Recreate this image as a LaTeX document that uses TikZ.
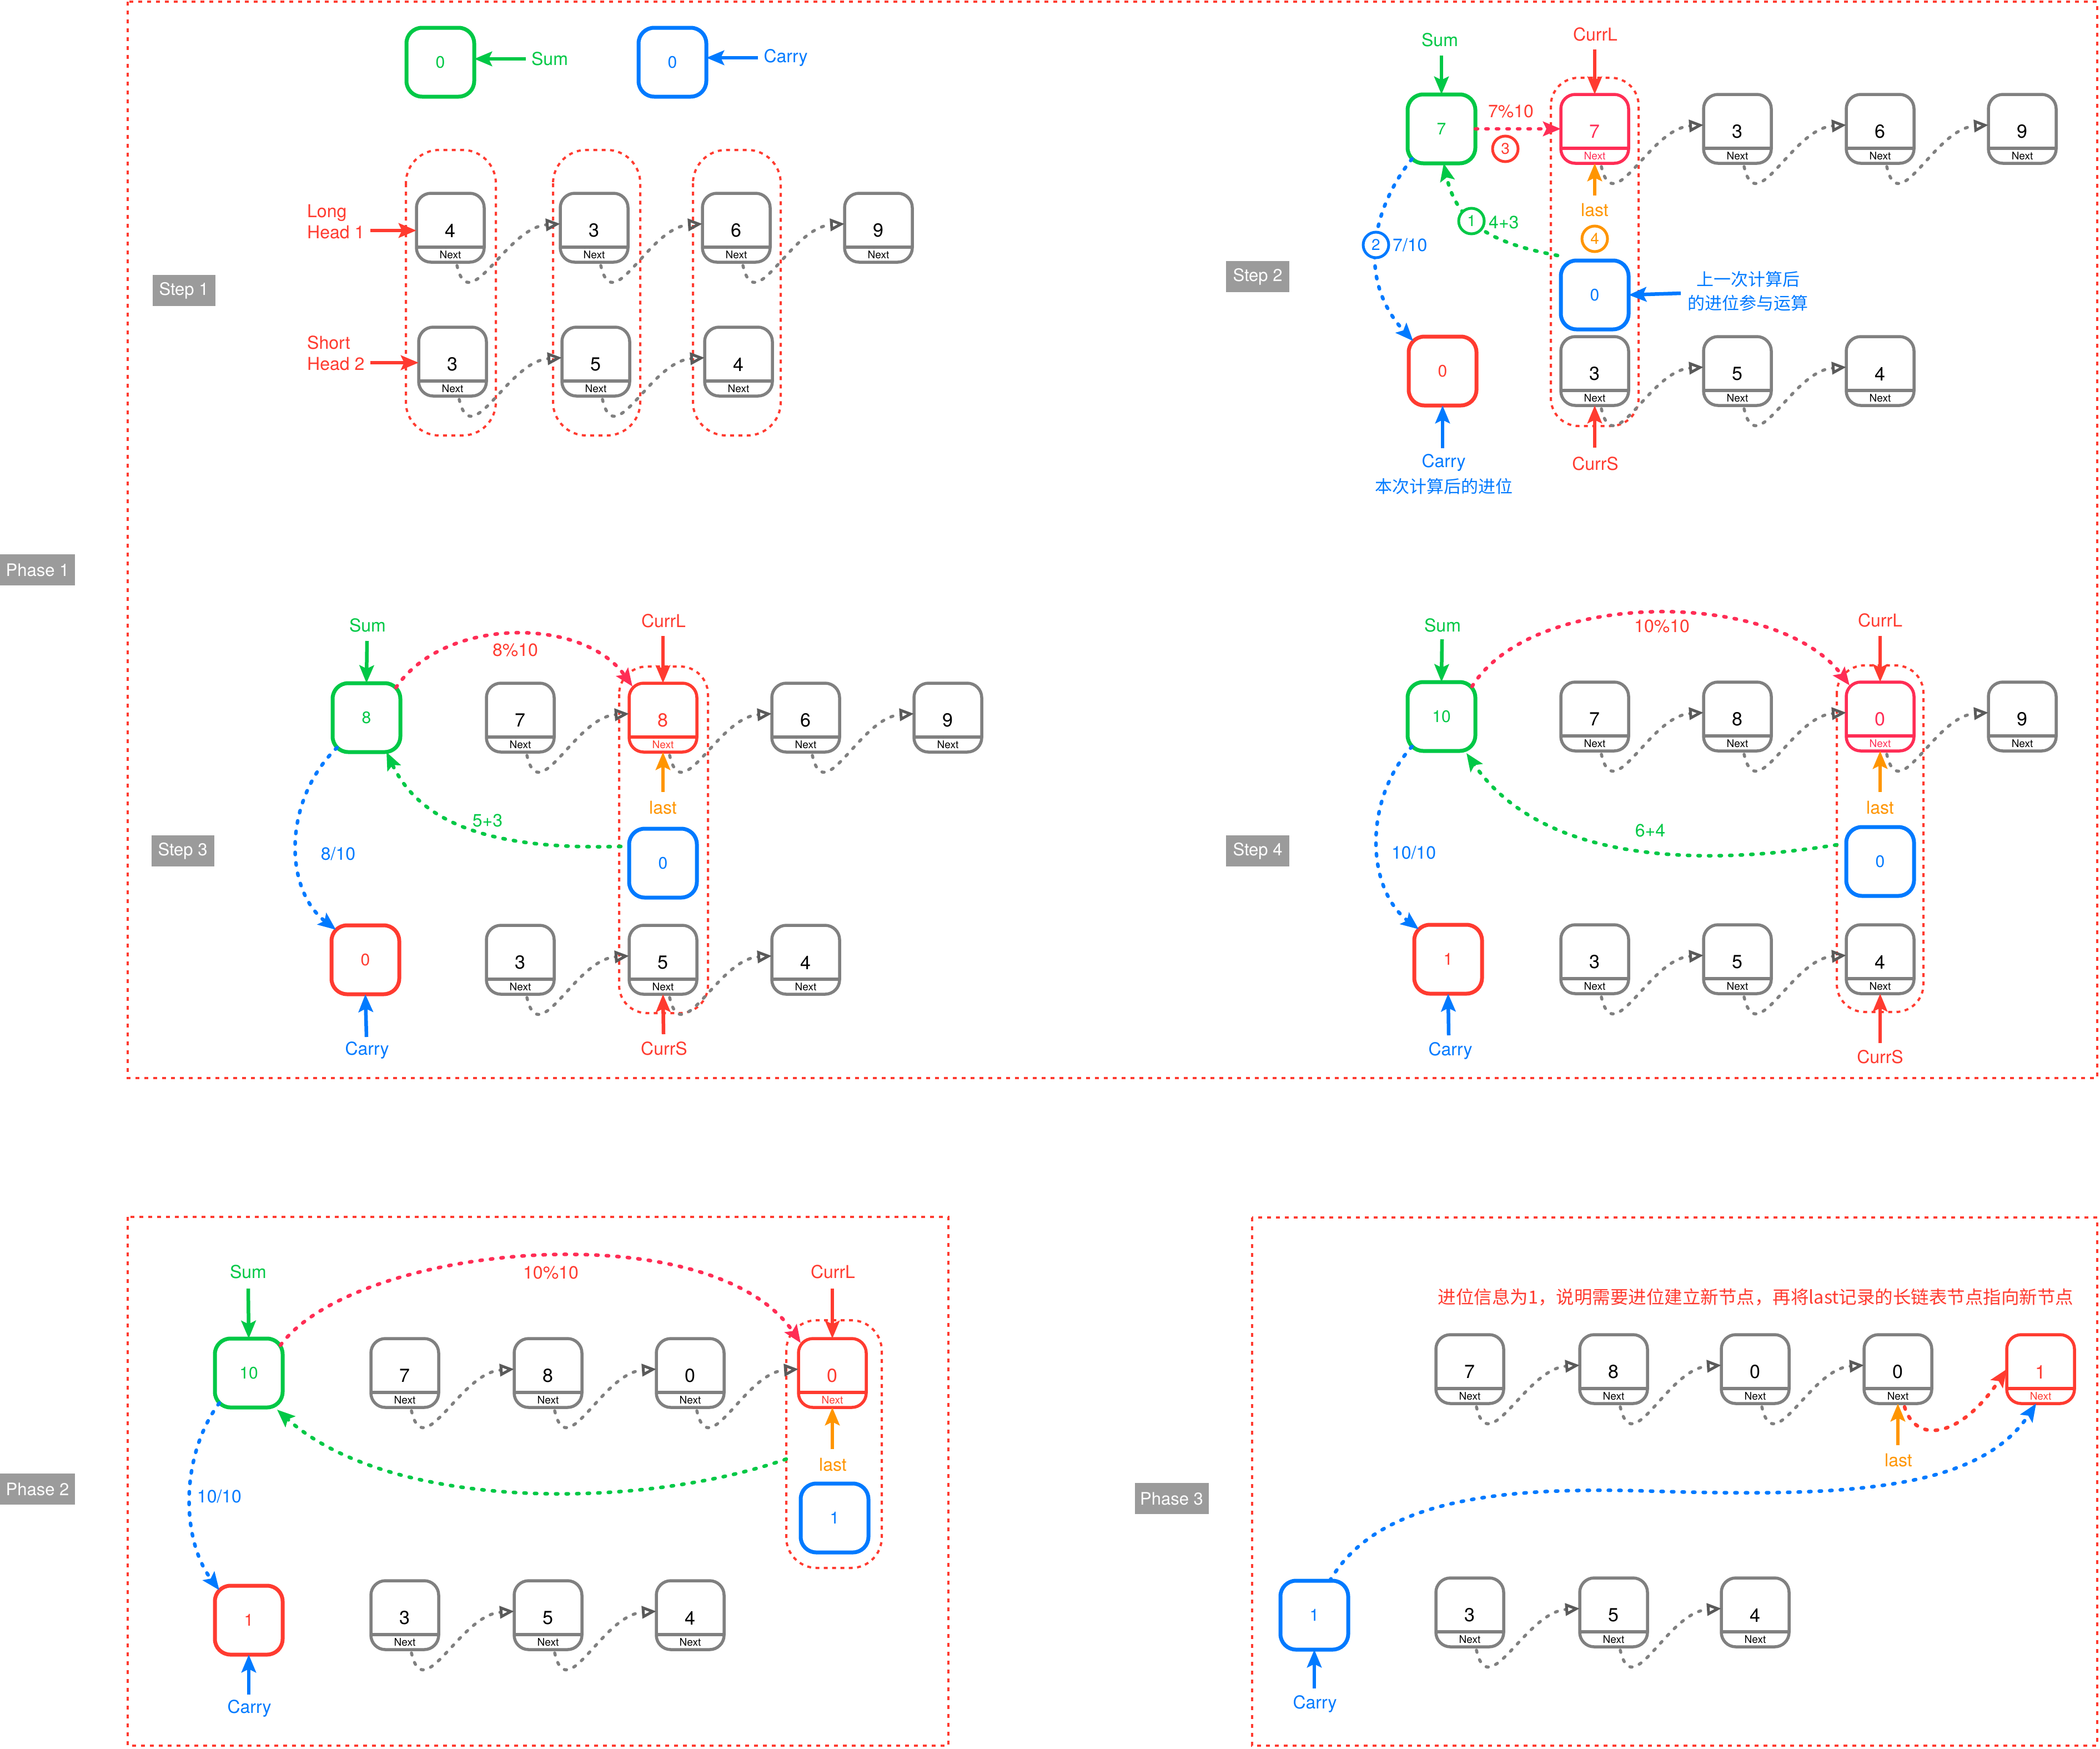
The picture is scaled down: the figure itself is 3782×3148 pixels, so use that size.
\documentclass[tikz,border=0pt]{standalone}
\usepackage{fontspec}
\setmainfont{TeX Gyre Heros}
\newfontfamily\cjk{Noto Sans CJK SC}
\usetikzlibrary{arrows.meta}
\definecolor{cgreen}{RGB}{0,200,70}
\definecolor{cblue}{RGB}{0,122,255}
\definecolor{cred}{RGB}{255,59,48}
\definecolor{cpink}{RGB}{255,45,85}
\definecolor{corange}{RGB}{255,149,0}
\definecolor{cgray}{RGB}{128,128,128}
\definecolor{ctip}{RGB}{90,90,90}
\definecolor{ctag}{RGB}{155,155,155}
\newcommand{\fsz}[1]{\fontsize{#1}{#1}\selectfont}
\newcommand{\ListNode}[6]{%
  \node[lnode, draw=#1] (#3) at (#4,#5) {};
  \draw[#1, line width=5.5pt] ([yshift=-35pt]#3.west) -- ([yshift=-35pt]#3.east);
  \node[valtxt, text=#2] (#3v) at ([yshift=-5pt]#3.center) {#6};
  \node[nexttxt, text=#2] (#3n) at ([yshift=-49pt]#3.center) {Next};
}
\newcommand{\ColBox}[5]{\node[cbox, draw=#1, text=#1] (#2) at (#3,#4) {#5};}
\newcommand{\NextLink}[2]{\draw[nextlink] ([xshift=12pt,yshift=-6pt]#1.south) .. controls +(22,97) and +(-98,7) .. ([yshift=7pt]#2.west);}
\begin{document}
\begin{tikzpicture}[x=1pt,y=-1pt,
 lnode/.style={draw=cgray, line width=5.5pt, rounded corners=26pt, minimum width=122pt, minimum height=124pt, inner sep=0pt, outer sep=0pt, fill=white},
 cbox/.style={line width=7pt, rounded corners=28pt, minimum width=122pt, minimum height=124pt, inner sep=0pt, outer sep=0pt, fill=white, font=\fsz{30}},
 valtxt/.style={font=\fsz{34}, inner sep=0pt},
 nexttxt/.style={font=\fsz{19}, inner sep=0pt},
 lab/.style={font=\fsz{32}, inner sep=2pt},
 lab2/.style={font=\fontsize{32}{38}\selectfont, inner sep=2pt, align=left, anchor=west},
 cjklab/.style={font=\cjk\fsz{31}, inner sep=2pt},
 tag/.style={fill=ctag, text=white, font=\fsz{31}, minimum height=56pt, inner sep=0pt},
 arr/.style={line width=6.5pt, -{Stealth[length=32pt,width=26pt,inset=6pt]}},
 darr/.style={line width=6.5pt, line cap=round, dash pattern=on 4pt off 15pt, -{Stealth[length=32pt,width=26pt,inset=6pt]}},
 nextlink/.style={cgray, line width=5.5pt, line cap=round, dash pattern=on 4pt off 14pt, -{Triangle[open,length=26pt,width=22pt,line width=5pt,color=ctip]}},
 grp/.style={cred, line width=4pt, dash pattern=on 7pt off 8pt, rounded corners=60pt},
 phasebox/.style={cred, line width=4pt, dash pattern=on 7pt off 9pt},
 circ/.style={circle, line width=5pt, minimum size=46pt, inner sep=0pt, fill=white, font=\fsz{28}},
]
\fill[white] (0,0) rectangle (3782,3148);
\useasboundingbox (0,0) rectangle (3782,3148);

% phase frames
\draw[phasebox] (230,3) rectangle (3777,1941);
\draw[phasebox] (230,2191) rectangle (1708,3143);
\draw[phasebox] (2255,2192) rectangle (3777,3143);

% tags
\node[tag, minimum width=135pt] (ph1) at (67.5,1026) {Phase 1};
\node[tag, minimum width=135pt] (ph2) at (67.5,2681) {Phase 2};
\node[tag, minimum width=133pt] (ph3) at (2110,2698) {Phase 3};
\node[tag, minimum width=113pt] (st1) at (331,523) {Step 1};
\node[tag, minimum width=114pt] (st2) at (2265,498) {Step 2};
\node[tag, minimum width=113pt] (st3) at (329,1532) {Step 3};
\node[tag, minimum width=114pt] (st4) at (2265,1532) {Step 4};

% ================= Step 1
\draw[grp] (731,270) rectangle (893,784);
\draw[grp] (996,270) rectangle (1153,784);
\draw[grp] (1248,270) rectangle (1406,784);
\ColBox{cgreen}{s1sum}{793}{112}{0}
\ColBox{cblue}{s1car}{1211}{112}{0}
\node[lab,text=cgreen] (s1sumL) at (990,106) {Sum};
\node[lab,text=cblue] (s1carL) at (1415,104) {Carry};
\draw[arr,cgreen,shorten <=8pt] (s1sumL.west) -- (s1sum.east |- s1sumL.west);
\draw[arr,cblue,shorten <=8pt] (s1carL.west) -- (s1car.east |- s1carL.west);
\ListNode{cgray}{black}{s1a1}{811}{410}{4}
\ListNode{cgray}{black}{s1a2}{1070}{410}{3}
\ListNode{cgray}{black}{s1a3}{1326}{410}{6}
\ListNode{cgray}{black}{s1a4}{1582}{410}{9}
\ListNode{cgray}{black}{s1b1}{815}{651}{3}
\ListNode{cgray}{black}{s1b2}{1073}{651}{5}
\ListNode{cgray}{black}{s1b3}{1330}{651}{4}
\node[lab2,text=cred] (s1lh) at (551,399) {Long\\Head 1};
\node[lab2,text=cred] (s1sh) at (551,636) {Short\\Head 2};
\coordinate (s1lhA) at (667,415);
\coordinate (s1shA) at (667,653);
\draw[arr,cred] (s1lhA) -- ([yshift=-5pt]s1a1.west);
\draw[arr,cred] (s1shA) -- ([yshift=-2pt]s1b1.west);
\NextLink{s1a1}{s1a2}
\NextLink{s1a2}{s1a3}
\NextLink{s1a3}{s1a4}
\NextLink{s1b1}{s1b2}
\NextLink{s1b2}{s1b3}

% ================= Step 2
\draw[grp, rounded corners=50pt] (2793,140) rectangle (2951,767);
\ColBox{cgreen}{s2sum}{2596}{232}{7}
\node[lab,text=cgreen] (s2sumL) at (2593,72) {Sum};
\coordinate (s2sumA) at (2596,100);
\draw[arr,cgreen] (s2sumA) -- (s2sum.north);
\ListNode{cpink}{cpink}{s2l1}{2872}{232}{7}
\ListNode{cgray}{black}{s2l2}{3129}{232}{3}
\ListNode{cgray}{black}{s2l3}{3386}{232}{6}
\ListNode{cgray}{black}{s2l4}{3642}{232}{9}
\node[lab,text=cred] (s2cl) at (2873,62) {CurrL};
\coordinate (s2clA) at (2872,89);
\draw[arr,cred] (s2clA) -- (s2l1.north);
\ColBox{cblue}{s2c0}{2872}{531}{0}
\ListNode{cgray}{black}{s2b1}{2872}{668}{3}
\ListNode{cgray}{black}{s2b2}{3129}{668}{5}
\ListNode{cgray}{black}{s2b3}{3386}{668}{4}
\node[lab,text=cred] (s2cs) at (2873,835) {CurrS};
\coordinate (s2csA) at (2872,806);
\draw[arr,cred] (s2csA) -- (s2b1.south);
\ColBox{cred}{s2car}{2598}{668}{0}
\node[lab,text=cblue] (s2carL) at (2600,833) {Carry};
\node[cjklab,text=cblue] (s2carN) at (2600,876) {本次计算后的进位};
\coordinate (s2carA) at (2598,807);
\draw[arr,cblue] (s2carA) -- (s2car.south);
\node[cjklab,text=cblue,align=center,font=\cjk\fontsize{31}{43}\selectfont] (s2note) at (3148,524) {上一次计算后\\的进位参与运算};
\coordinate (s2noteA) at (3027,528);
\draw[arr,cblue] (s2noteA) -- (s2c0.east);
\coordinate (s2lastA) at (2872,352);
\draw[arr,corange] (s2lastA) -- (s2l1.south);
\node[lab,text=corange] (s2last) at (2872,378) {last};
\draw[darr,cpink] (s2sum.east) -- (s2l1.west);
\node[lab,text=cred] (s2m) at (2721,200) {7\%10};
\NextLink{s2l1}{s2l2}
\NextLink{s2l2}{s2l3}
\NextLink{s2l3}{s2l4}
\NextLink{s2b1}{s2b2}
\NextLink{s2b2}{s2b3}
\draw[darr,cblue] ([xshift=8pt,yshift=8pt]s2sum.south west) .. controls (2475,370) and (2440,500) .. ([xshift=8pt,yshift=-8pt]s2car.north west);
\draw[darr,cgreen] ([xshift=-6pt,yshift=9pt]s2c0.north west) .. controls (2700,440) and (2625,410) .. ([xshift=4pt]s2sum.south);
\node[circ,draw=cred,text=cred] (s2k3) at (2711,268) {3};
\node[circ,draw=corange,text=corange] (s2k4) at (2872,430) {4};
\node[circ,draw=cblue,text=cblue] (s2k2) at (2478,441) {2};
\node[lab,text=cblue,anchor=west] (s2d) at (2506,441) {7/10};
\node[circ,draw=cgreen,text=cgreen] (s2k1) at (2650,398) {1};
\node[lab,text=cgreen,anchor=west] (s2p) at (2679,400) {4+3};

% ================= Step 3
\draw[grp, rounded corners=50pt] (1115,1200) rectangle (1275,1824);
\ColBox{cgreen}{s3sum}{660}{1292}{8}
\node[lab,text=cgreen] (s3sumL) at (662,1126) {Sum};
\coordinate (s3sumA) at (661,1154);
\draw[arr,cgreen] (s3sumA) -- (s3sum.north);
\ListNode{cgray}{black}{s3l1}{937}{1292}{7}
\ListNode{cred}{cred}{s3l2}{1194}{1292}{8}
\ListNode{cgray}{black}{s3l3}{1451}{1292}{6}
\ListNode{cgray}{black}{s3l4}{1707}{1292}{9}
\node[lab,text=cred] (s3cl) at (1195,1118) {CurrL};
\coordinate (s3clA) at (1194,1145);
\draw[arr,cred] (s3clA) -- (s3l2.north);
\coordinate (s3lastA) at (1194,1426);
\draw[arr,corange] (s3lastA) -- (s3l2.south);
\node[lab,text=corange] (s3last) at (1194,1454) {last};
\ColBox{cblue}{s3c0}{1194}{1554}{0}
\ColBox{cred}{s3car}{658}{1728}{0}
\ListNode{cgray}{black}{s3b1}{937}{1728}{3}
\ListNode{cgray}{black}{s3b2}{1194}{1728}{5}
\ListNode{cgray}{black}{s3b3}{1451}{1728}{4}
\node[lab,text=cblue] (s3carL) at (661,1891) {Carry};
\coordinate (s3carA) at (660,1867);
\draw[arr,cblue] (s3carA) -- (s3car.south);
\node[lab,text=cred] (s3cs) at (1196,1888) {CurrS};
\coordinate (s3csA) at (1195,1862);
\draw[arr,cred] (s3csA) -- (s3b2.south);
\NextLink{s3l1}{s3l2}
\NextLink{s3l2}{s3l3}
\NextLink{s3l3}{s3l4}
\NextLink{s3b1}{s3b2}
\NextLink{s3b2}{s3b3}
\draw[darr,cpink] ([xshift=-8pt,yshift=-8pt]s3sum.north east) .. controls (800,1110) and (1050,1110) .. ([xshift=6pt,yshift=-6pt]s3l2.north west);
\node[lab,text=cred] (s3m) at (928,1170) {8\%10};
\draw[darr,cgreen] ([xshift=-15pt,yshift=-32pt]s3c0.north west) .. controls (900,1530) and (760,1490) .. ([xshift=-25pt]s3sum.south east);
\node[lab,text=cgreen] (s3p) at (878,1477) {5+3};
\draw[darr,cblue] ([xshift=8pt,yshift=8pt]s3sum.south west) .. controls (510,1440) and (510,1600) .. ([xshift=8pt,yshift=-8pt]s3car.north west);
\node[lab,text=cblue] (s3d) at (609,1537) {8/10};

% ================= Step 4
\draw[grp, rounded corners=50pt] (3308,1198) rectangle (3464,1822);
\ColBox{cgreen}{s4sum}{2596}{1290}{10}
\node[lab,text=cgreen] (s4sumL) at (2598,1126) {Sum};
\coordinate (s4sumA) at (2597,1151);
\draw[arr,cgreen] (s4sumA) -- (s4sum.north);
\ListNode{cgray}{black}{s4l1}{2872}{1290}{7}
\ListNode{cgray}{black}{s4l2}{3129}{1290}{8}
\ListNode{cpink}{cpink}{s4l3}{3386}{1290}{0}
\ListNode{cgray}{black}{s4l4}{3642}{1290}{9}
\node[lab,text=cred] (s4cl) at (3386,1117) {CurrL};
\coordinate (s4clA) at (3386,1145);
\draw[arr,cred] (s4clA) -- (s4l3.north);
\coordinate (s4lastA) at (3386,1426);
\draw[arr,corange] (s4lastA) -- (s4l3.south);
\node[lab,text=corange] (s4last) at (3386,1454) {last};
\ColBox{cblue}{s4c0}{3386}{1551}{0}
\ColBox{cred}{s4car}{2608}{1727}{1}
\ListNode{cgray}{black}{s4b1}{2872}{1727}{3}
\ListNode{cgray}{black}{s4b2}{3129}{1727}{5}
\ListNode{cgray}{black}{s4b3}{3386}{1727}{4}
\node[lab,text=cblue] (s4carL) at (2612,1892) {Carry};
\coordinate (s4carA) at (2609,1864);
\draw[arr,cblue] (s4carA) -- (s4car.south);
\node[lab,text=cred] (s4cs) at (3386,1903) {CurrS};
\coordinate (s4csA) at (3386,1878);
\draw[arr,cred] (s4csA) -- (s4b3.south);
\NextLink{s4l1}{s4l2}
\NextLink{s4l2}{s4l3}
\NextLink{s4l3}{s4l4}
\NextLink{s4b1}{s4b2}
\NextLink{s4b2}{s4b3}
\draw[darr,cpink] ([xshift=-6pt,yshift=-8pt]s4sum.north east) .. controls (2760,1060) and (3200,1060) .. ([xshift=6pt,yshift=-6pt]s4l3.north west);
\node[lab,text=cred] (s4m) at (2993,1127) {10\%10};
\draw[darr,cgreen] ([xshift=-17pt,yshift=-32pt]s4c0.north west) .. controls (3000,1570) and (2760,1530) .. ([xshift=-16pt,yshift=-4pt]s4sum.south east);
\node[lab,text=cgreen] (s4p) at (2972,1495) {6+4};
\draw[darr,cblue] ([xshift=8pt,yshift=8pt]s4sum.south west) .. controls (2455,1440) and (2460,1600) .. ([xshift=8pt,yshift=-8pt]s4car.north west);
\node[lab,text=cblue] (s4d) at (2546,1535) {10/10};

% ================= Phase 2
\draw[grp, rounded corners=55pt] (1416,2377) rectangle (1588,2823);
\ColBox{cgreen}{p2sum}{448}{2472}{10}
\node[lab,text=cgreen] (p2sumL) at (447,2290) {Sum};
\coordinate (p2sumA) at (447,2320);
\draw[arr,cgreen] (p2sumA) -- (p2sum.north);
\ListNode{cgray}{black}{p2l1}{729}{2472}{7}
\ListNode{cgray}{black}{p2l2}{987}{2472}{8}
\ListNode{cgray}{black}{p2l3}{1243}{2472}{0}
\ListNode{cred}{cred}{p2l4}{1499}{2472}{0}
\node[lab,text=cred] (p2cl) at (1500,2290) {CurrL};
\coordinate (p2clA) at (1499,2320);
\draw[arr,cred] (p2clA) -- (p2l4.north);
\coordinate (p2lastA) at (1499,2609);
\draw[arr,corange] (p2lastA) -- (p2l4.south);
\node[lab,text=corange] (p2last) at (1500,2637) {last};
\ColBox{cblue}{p2c1}{1503}{2733}{1}
\ColBox{cred}{p2car}{448}{2917}{1}
\ListNode{cgray}{black}{p2b1}{729}{2908}{3}
\ListNode{cgray}{black}{p2b2}{987}{2908}{5}
\ListNode{cgray}{black}{p2b3}{1243}{2908}{4}
\node[lab,text=cblue] (p2carL) at (449,3076) {Carry};
\coordinate (p2carA) at (448,3051);
\draw[arr,cblue] (p2carA) -- (p2car.south);
\NextLink{p2l1}{p2l2}
\NextLink{p2l2}{p2l3}
\NextLink{p2l3}{p2l4}
\NextLink{p2b1}{p2b2}
\NextLink{p2b2}{p2b3}
\draw[darr,cpink] ([xshift=-4pt,yshift=-12pt]p2sum.north east) .. controls (640,2240) and (1280,2180) .. ([xshift=4pt,yshift=-8pt]p2l4.north west);
\node[lab,text=cred] (p2m) at (992,2291) {10\%10};
\draw[darr,cgreen] ([xshift=-26pt,yshift=44pt]p2c1.north west) .. controls (1150,2720) and (700,2720) .. ([xshift=-10pt,yshift=-4pt]p2sum.south east);
\draw[darr,cblue] ([xshift=8pt,yshift=8pt]p2sum.south west) .. controls (325,2620) and (325,2770) .. ([xshift=8pt,yshift=-8pt]p2car.north west);
\node[lab,text=cblue,fill=white,inner sep=1pt] (p2d) at (395,2694) {10/10};

% ================= Phase 3
\node[cjklab,text=cred,font=\cjk\fsz{32.5}] (p3note) at (3162,2335) {进位信息为1，说明需要进位建立新节点，再将last记录的长链表节点指向新节点};
\ListNode{cgray}{black}{p3l1}{2647}{2465}{7}
\ListNode{cgray}{black}{p3l2}{2906}{2465}{8}
\ListNode{cgray}{black}{p3l3}{3161}{2465}{0}
\ListNode{cgray}{black}{p3l4}{3418}{2465}{0}
\ListNode{cred}{cred}{p3l5}{3675}{2465}{1}
\ColBox{cblue}{p3car}{2367}{2908}{1}
\ListNode{cgray}{black}{p3b1}{2647}{2903}{3}
\ListNode{cgray}{black}{p3b2}{2906}{2903}{5}
\ListNode{cgray}{black}{p3b3}{3161}{2903}{4}
\NextLink{p3l1}{p3l2}
\NextLink{p3l2}{p3l3}
\NextLink{p3l3}{p3l4}
\NextLink{p3b1}{p3b2}
\NextLink{p3b2}{p3b3}
\draw[darr,cred] ([xshift=12pt,yshift=-6pt]p3l4.south) .. controls (3450,2600) and (3530,2590) .. (p3l5.west);
\coordinate (p3lastA) at (3418,2602);
\draw[arr,corange] (p3lastA) -- (p3l4.south);
\node[lab,text=corange] (p3last) at (3419,2629) {last};
\draw[darr,cblue] ([xshift=28pt]p3car.north) .. controls (2480,2700) and (2700,2678) .. (2950,2684) .. controls (3300,2695) and (3560,2690) .. ([xshift=-8pt]p3l5.south);
\node[lab,text=cblue] (p3carL) at (2368,3068) {Carry};
\coordinate (p3carA) at (2367,3040);
\draw[arr,cblue] (p3carA) -- (p3car.south);
\end{tikzpicture}
\end{document}
